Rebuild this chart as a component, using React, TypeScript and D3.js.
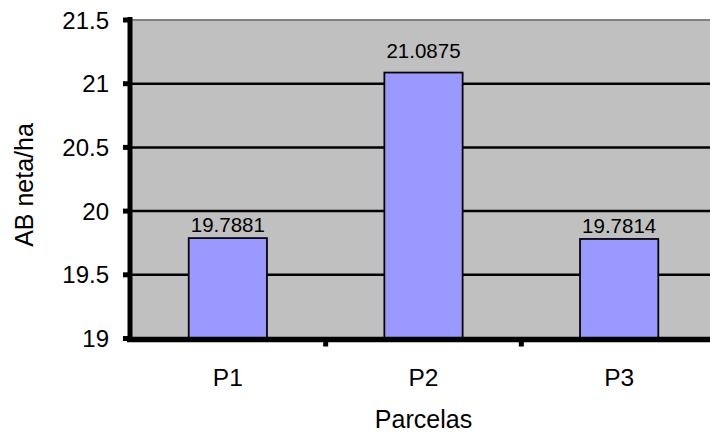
import React from "react";
import * as d3 from "d3";

const categories = ["P1", "P2", "P3"];
const values = [19.7881, 21.0875, 19.7814];
const valueLabels = ["19.7881", "21.0875", "19.7814"];
const yTicks = [19, 19.5, 20, 20.5, 21, 21.5];
const yTickLabels = ["19", "19.5", "20", "20.5", "21", "21.5"];

const labelGap = [6, 15, 6];

export default function App() {
  const W = 710, H = 436;
  const left = 130, right = 717, top = 20, bottom = 338.5;
  const x = d3.scaleBand<string>().domain(categories).range([left, right]).paddingInner(0.6).paddingOuter(0.3);
  const xOuter = d3.scaleBand<string>().domain(categories).range([left, right]);
  const y = d3.scaleLinear().domain([19, 21.5]).range([bottom, top]);
  const font = "Arial, 'Liberation Sans', sans-serif";
  return (
    <svg width={W} height={H} style={{ position: "absolute", left: 0, top: 0 }} fontFamily={font}>
      <rect x={left} y={top} width={right - left} height={bottom - top} fill="#C0C0C0" />
      <line x1={left} x2={right} y1={y(21.5)} y2={y(21.5)} stroke="#808080" strokeWidth={2} />
      {yTicks.slice(1, -1).map((t) => (
        <line key={t} x1={left} x2={right} y1={y(t)} y2={y(t)} stroke="#000" strokeWidth={2.5} />
      ))}
      {categories.map((c, i) => (
        <g key={c}>
          <rect x={x(c)!} y={y(values[i])} width={x.bandwidth()} height={bottom - y(values[i])}
            fill="#9999FF" stroke="#000" strokeWidth={1.75} />
          <text x={x(c)! + x.bandwidth() / 2} y={y(values[i]) - labelGap[i]} textAnchor="middle" fontSize={20.5}>
            {valueLabels[i]}
          </text>
          <text x={xOuter(c)! + xOuter.bandwidth() / 2} y={386} textAnchor="middle" fontSize={24.5}>{c}</text>
        </g>
      ))}
      {/* y axis */}
      <line x1={left} x2={left} y1={top - 3} y2={bottom + 3} stroke="#000" strokeWidth={5} />
      {yTicks.map((t, i) => (
        <g key={t}>
          <line x1={123} x2={left} y1={y(t)} y2={y(t)} stroke="#000" strokeWidth={5} />
          <text x={109} y={y(t)} dy="0.36em" textAnchor="end" fontSize={24}>{yTickLabels[i]}</text>
        </g>
      ))}
      {/* x axis */}
      <line x1={left - 3} x2={right} y1={bottom + 1} y2={bottom + 1} stroke="#000" strokeWidth={5.5} />
      {categories.map((c) => (
        <line key={c} x1={xOuter(c)! + xOuter.bandwidth()} x2={xOuter(c)! + xOuter.bandwidth()}
          y1={bottom} y2={bottom + 8} stroke="#000" strokeWidth={5} />
      ))}
      <text transform={`translate(33,185) rotate(-90)`} textAnchor="middle" fontSize={25}>AB neta/ha</text>
      <text x={(left + right) / 2} y={428} textAnchor="middle" fontSize={25}>Parcelas</text>
    </svg>
  );
}
